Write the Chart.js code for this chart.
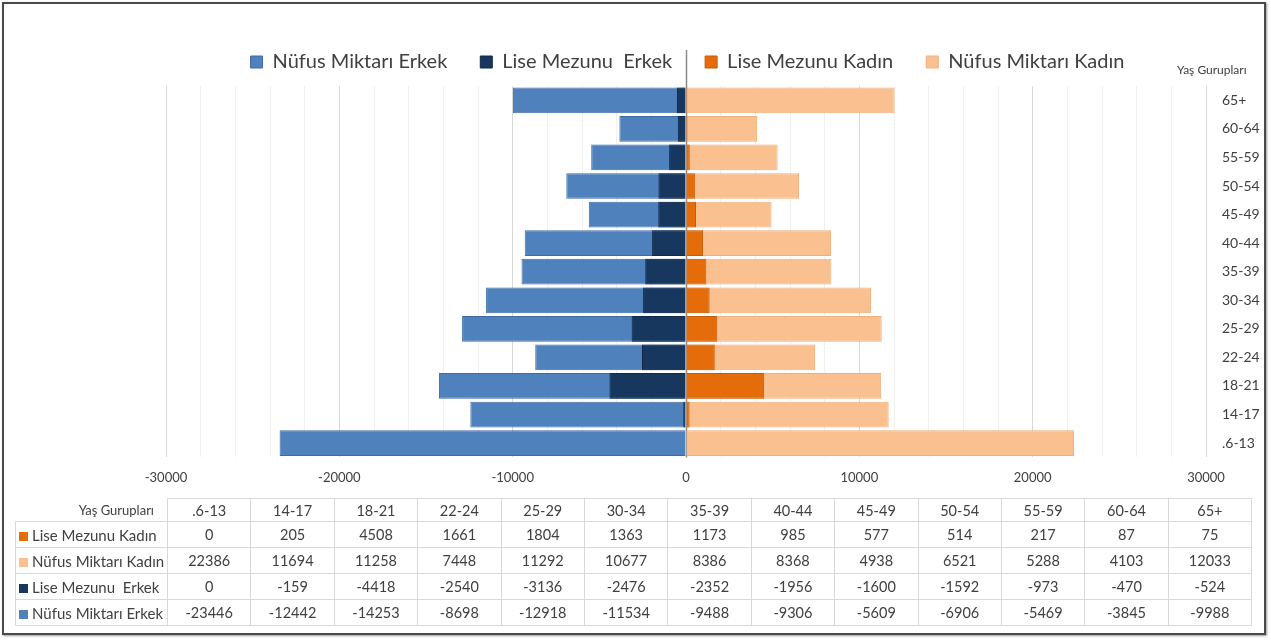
<!DOCTYPE html>
<html>
<head>
<meta charset="utf-8">
<script src="https://cdn.jsdelivr.net/npm/chart.js@4"></script>
<style>
body{margin:0;background:#fff;font-family:Lato,sans-serif;}
#frame{position:absolute;left:2px;top:2px;width:1260px;height:629px;border:2px solid #4a4a4a;box-shadow:1px 1px 2px #999;}
#wrap{position:absolute;left:0;top:0;width:1271px;height:508px;}
#ytitle{position:absolute;left:1177px;top:62px;font-size:12px;color:#404040;}
#tbl{position:absolute;left:15px;top:498px;border-collapse:collapse;table-layout:fixed;font-size:14.5px;color:#404040;}
#tbl td{border:1px solid #d9d9d9;text-align:center;height:25px;padding:0;white-space:pre;}
#tbl tr:first-child td{height:22px;}
#tbl td.lab{text-align:left;padding-left:3px;font-size:15px;}
#tbl td.corner{border-top:none;border-left:none;text-align:right;font-size:13px;padding-right:13px;}
.sw{display:inline-block;width:9px;height:9px;margin-right:4px;vertical-align:0px;}
</style>
</head>
<body>
<div id="frame"></div>
<div id="wrap"><canvas id="pyramid"></canvas></div>
<div id="ytitle">Yaş Gurupları</div>
<table id="tbl"></table>
<script>
const ageGroups = ['.6-13','14-17','18-21','22-24','25-29','30-34','35-39','40-44','45-49','50-54','55-59','60-64','65+'];
const liseKadin = [0,205,4508,1661,1804,1363,1173,985,577,514,217,87,75];
const nufusKadin = [22386,11694,11258,7448,11292,10677,8386,8368,4938,6521,5288,4103,12033];
const liseErkek = [0,-159,-4418,-2540,-3136,-2476,-2352,-1956,-1600,-1592,-973,-470,-524];
const nufusErkek = [-23446,-12442,-14253,-8698,-12918,-11534,-9488,-9306,-5609,-6906,-5469,-3845,-9988];
const xTicks = [-30000,-20000,-10000,0,10000,20000,30000];

const cBlue = '#4f81bd', cNavy = '#17375e', cOrange = '#e46c0a', cPeach = '#fac090';

// zero line running up into the legend
const zeroLine = {
    id:'zeroLine',
    beforeDatasetsDraw(chart){
        const x = Math.round(chart.scales.x.getPixelForValue(0)) + 0.5;
        const c = chart.ctx;
        c.save();
        c.strokeStyle = '#8c8c8c';
        c.lineWidth = 1.5;
        c.beginPath();
        c.moveTo(x, 50);
        c.lineTo(x, chart.chartArea.bottom);
        c.stroke();
        c.restore();
    }
};

// a bit more room below the legend, and legend centred on the whole width
const legendGap = {
    id:'legendGap',
    beforeInit(chart){
        const fit = chart.legend.fit;
        chart.legend.fit = function(){
            fit.bind(chart.legend)();
            this.height += 4;
        };
    },
    afterLayout(chart){
        chart.legend.left -= 31;
        chart.legend.right -= 31;
    }
};

const ctx = document.getElementById('pyramid').getContext('2d');
const chart = new Chart(ctx,{
    type:'bar',
    data:{
        labels: ageGroups,
        datasets:[
            {label:'Nüfus Miktarı Erkek', data:nufusErkek, backgroundColor:cBlue, borderColor:'#3d6ca3', borderWidth:1, order:2},
            {label:'Lise Mezunu  Erkek', data:liseErkek, backgroundColor:cNavy, borderColor:'#112a4a', borderWidth:1, order:1},
            {label:'Lise Mezunu Kadın', data:liseKadin, backgroundColor:cOrange, borderColor:'#c85c06', borderWidth:1, order:1},
            {label:'Nüfus Miktarı Kadın', data:nufusKadin, backgroundColor:cPeach, borderColor:'#f0b07c', borderWidth:1, order:2}
        ]
    },
    options:{
        indexAxis:'y',
        responsive:true,
        maintainAspectRatio:false,
        animation:false,
        grouped:false,
        barPercentage:0.9,
        categoryPercentage:1,
        layout:{padding:{left:166,right:0,top:19,bottom:9}},
        plugins:{
            legend:{
                position:'top',
                labels:{
                    boxWidth:12, boxHeight:12, padding:33,
                    color:'#404040',
                    font:{family:'Lato', size:20},
                    sort:(a,b)=>a.datasetIndex-b.datasetIndex
                }
            },
            tooltip:{enabled:false}
        },
        scales:{
            x:{
                min:-30000, max:30000,
                border:{display:false},
                grid:{
                    drawTicks:false,
                    color:(c)=> (c.tick && c.tick.value % 10000 === 0) ? '#d9d9d9' : '#f0f0f0'
                },
                ticks:{
                    stepSize:2000,
                    autoSkip:false,
                    maxRotation:0,
                    padding:13,
                    color:'#404040',
                    font:{family:'Lato', size:13},
                    callback:(v)=> xTicks.includes(v) ? String(v) : ''
                }
            },
            y:{
                position:'right',
                reverse:true,
                border:{display:false},
                grid:{display:false, drawTicks:false},
                afterFit:(s)=>{ s.width = 65; },
                ticks:{
                    crossAlign:'near',
                    padding:16,
                    color:'#404040',
                    font:{family:'Lato', size:14}
                }
            }
        }
    },
    plugins:[zeroLine, legendGap]
});

// data table under the chart
const tbl = document.getElementById('tbl');
const rows = [
    ['Lise Mezunu Kadın', cOrange, liseKadin],
    ['Nüfus Miktarı Kadın', cPeach, nufusKadin],
    ['Lise Mezunu  Erkek', cNavy, liseErkek],
    ['Nüfus Miktarı Erkek', cBlue, nufusErkek]
];
let html = '<colgroup><col style="width:152px">' + ageGroups.map(()=> '<col style="width:83.4px">').join('') + '</colgroup>';
html += '<tr><td class="corner">Yaş Gurupları</td>' + ageGroups.map(a=>'<td>'+a+'</td>').join('') + '</tr>';
rows.forEach(r=>{
    html += '<tr><td class="lab"><span class="sw" style="background:'+r[1]+'"></span>'+r[0]+'</td>' + r[2].map(v=>'<td>'+v+'</td>').join('') + '</tr>';
});
tbl.innerHTML = html;
</script>
</body>
</html>
